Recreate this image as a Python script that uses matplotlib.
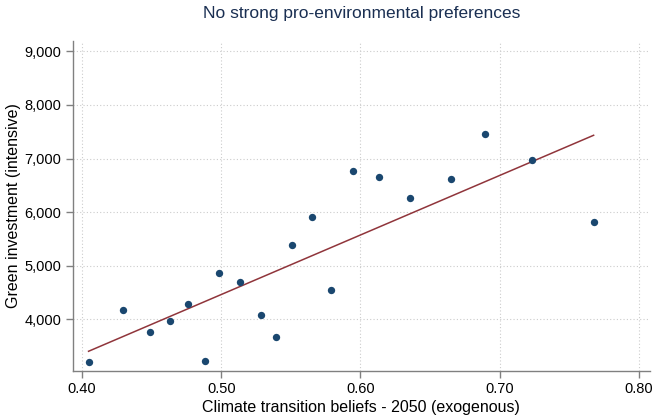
import numpy as np
import matplotlib
matplotlib.use("Agg")
import matplotlib.pyplot as plt
from matplotlib.ticker import FuncFormatter

plt.rcParams["font.family"] = ["Liberation Sans", "DejaVu Sans"]

# Binned scatter: climate transition beliefs vs. green investment
beliefs = [0.4047, 0.4296, 0.4490, 0.4630, 0.4762, 0.4884, 0.4987, 0.5138,
           0.5285, 0.5393, 0.5510, 0.5651, 0.5787, 0.5950, 0.6136, 0.6356,
           0.6654, 0.6896, 0.7231, 0.7675]
investment = [3212, 4178, 3758, 3968, 4290, 3219, 4874, 4699,
              4080, 3665, 5394, 5907, 4558, 6762, 6658, 6260,
              6613, 7463, 6967, 5822]

x_ticks = [0.40, 0.50, 0.60, 0.70, 0.80]
y_ticks = [4000, 5000, 6000, 7000, 8000, 9000]

navy = "#1a476f"
maroon = "#90353b"

fig = plt.figure(figsize=(6.53, 4.16), dpi=100)
ax = fig.add_axes([0.1113, 0.1089, 0.8841, 0.7925])

x = np.array(beliefs)
y = np.array(investment)
ax.scatter(x, y, s=28, color=navy, zorder=3, linewidths=0)

# Linear fit over the range of the data
slope, intercept = np.polyfit(x, y, 1)
xs = np.array([x.min(), x.max()])
ax.plot(xs, intercept + slope * xs, color=maroon, lw=1.1, zorder=2)

ax.set_xlim(0.3933, 0.808)
ax.set_ylim(3045, 9191)
ax.set_xticks(x_ticks)
ax.set_yticks(y_ticks)
ax.xaxis.set_major_formatter(FuncFormatter(lambda v, p: f"{v:.2f}"))
ax.yaxis.set_major_formatter(FuncFormatter(lambda v, p: f"{v:,.0f}"))

ax.grid(True, color="#cccccc", linestyle=(0, (1, 2)), linewidth=0.8)
ax.set_axisbelow(True)
for side in ("top", "right"):
    ax.spines[side].set_visible(False)
for side in ("left", "bottom"):
    ax.spines[side].set_color("#808080")
    ax.spines[side].set_linewidth(1.0)
ax.tick_params(axis="both", colors="#808080", labelcolor="black",
               length=5, width=1.0, labelsize=10.5, pad=3)

ax.set_xlabel("Climate transition beliefs - 2050 (exogenous)", fontsize=11.5,
              labelpad=3)
ax.set_ylabel("Green investment (intensive)", fontsize=11.5, labelpad=3)

# Title centred over the plot region
fig.text(0.5533, 0.956, "No strong pro-environmental preferences",
         fontsize=12.5, color="#1a2f52", ha="center", va="baseline")

fig.savefig("out.png", dpi=100)
